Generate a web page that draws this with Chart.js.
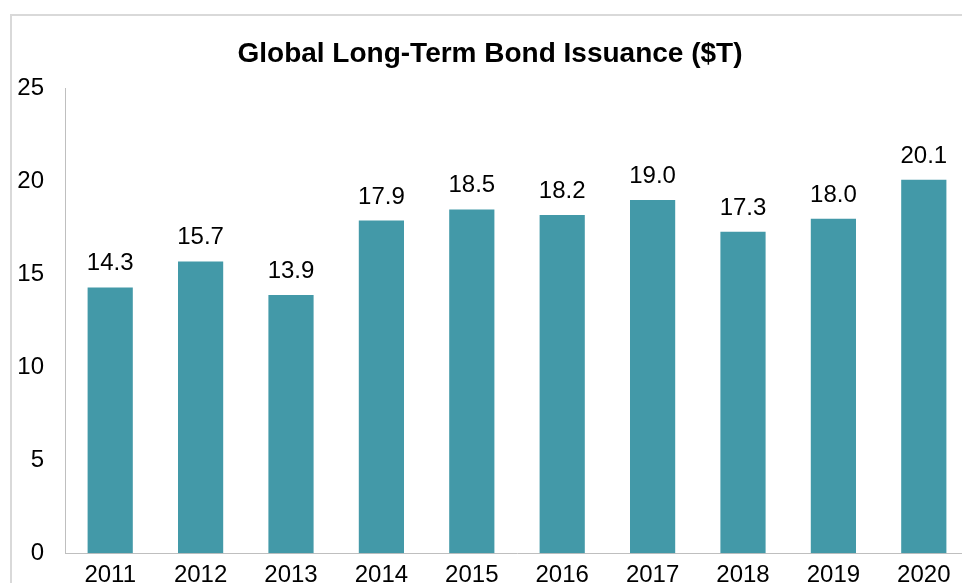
<!DOCTYPE html>
<html>
<head>
<meta charset="utf-8">
<script src="https://cdn.jsdelivr.net/npm/chart.js@4/dist/chart.umd.min.js"></script>
<style>
    html, body { margin: 0; padding: 0; background: #fff; overflow: hidden; width: 962px; height: 583px; }
    #wrap { position: relative; width: 962px; height: 583px; overflow: hidden; }
    #frame { position: absolute; left: 10px; top: 14px; width: 1000px; height: 600px;
             border-top: 2px solid #d9d9d9; border-left: 2px solid #d9d9d9; pointer-events: none; }
    #bondChart { position: absolute; left: 0; top: 0; }
</style>
</head>
<body>
<div id="wrap">
    <div id="frame"></div>
    <canvas id="bondChart" width="980" height="600"></canvas>
</div>
<script>
const years = ['2011', '2012', '2013', '2014', '2015', '2016', '2017', '2018', '2019', '2020'];
const issuance = [14.3, 15.7, 13.9, 17.9, 18.5, 18.2, 19.0, 17.3, 18.0, 20.1];
const yTicks = [0, 5, 10, 15, 20, 25];

document.addEventListener('DOMContentLoaded', function() {
    const ctx = document.getElementById('bondChart');

    // 막대 위에 값 표시
    const valueLabels = {
        id: 'valueLabels',
        afterDatasetsDraw(chart) {
            const c = chart.ctx;
            const meta = chart.getDatasetMeta(0);
            c.save();
            c.font = '24px "Liberation Sans", Arial, sans-serif';
            c.fillStyle = '#000';
            c.textAlign = 'center';
            c.textBaseline = 'alphabetic';
            meta.data.forEach((bar, i) => {
                c.fillText(issuance[i].toFixed(1), bar.x, bar.y - 17);
            });
            c.restore();
        }
    };

    new Chart(ctx, {
        type: 'bar',
        data: {
            labels: years,
            datasets: [{
                data: issuance,
                backgroundColor: '#4399a8',
                borderWidth: 0,
                categoryPercentage: 1.0,
                barPercentage: 0.5
            }]
        },
        options: {
            responsive: false,
            animation: false,
            devicePixelRatio: 1,
            layout: { padding: { top: 0, left: 11, right: 11, bottom: 2 } },
            plugins: {
                legend: { display: false },
                tooltip: { enabled: false },
                title: {
                    display: true,
                    text: 'Global Long-Term Bond Issuance ($T)',
                    color: '#000',
                    font: { family: '"Liberation Sans", Arial, sans-serif', size: 28, weight: 'bold' },
                    padding: { top: 37, bottom: 18 }
                }
            },
            scales: {
                x: {
                    grid: { display: false, drawTicks: false },
                    border: { display: true, color: '#bfbfbf', width: 1 },
                    ticks: {
                        color: '#000',
                        padding: 8,
                        font: { family: '"Liberation Sans", Arial, sans-serif', size: 24 }
                    }
                },
                y: {
                    min: 0,
                    max: 25,
                    grid: { display: false, drawTicks: false },
                    border: { display: true, color: '#bfbfbf', width: 1 },
                    afterFit(scale) { scale.width = 54; },
                    afterBuildTicks(scale) { scale.ticks = yTicks.map(v => ({ value: v })); },
                    ticks: {
                        color: '#000',
                        padding: 21,
                        font: { family: '"Liberation Sans", Arial, sans-serif', size: 24 }
                    }
                }
            }
        },
        plugins: [valueLabels]
    });
});
</script>
</body>
</html>
